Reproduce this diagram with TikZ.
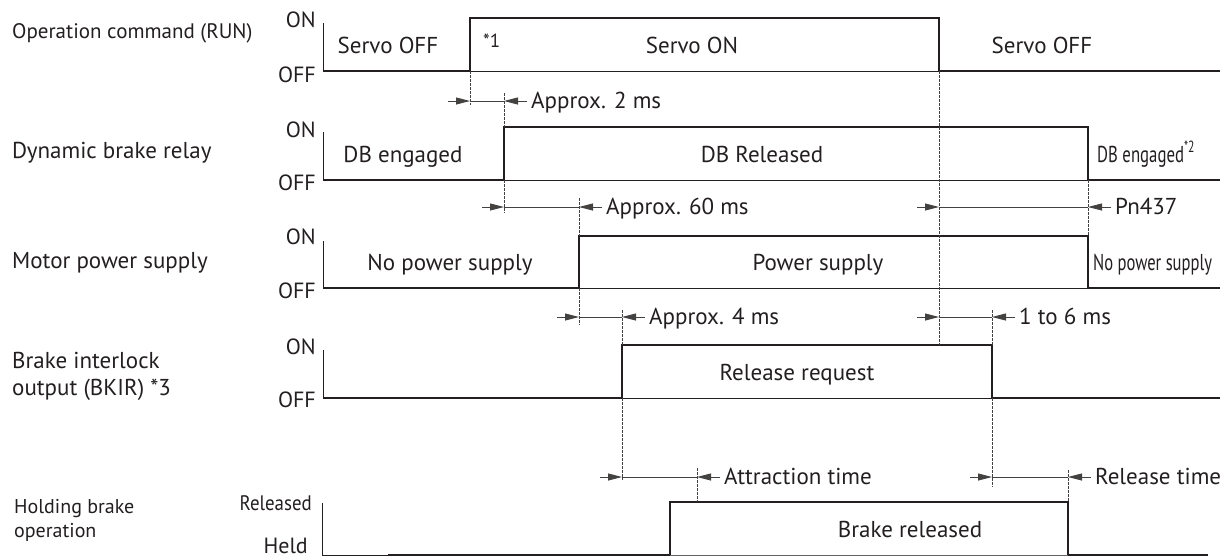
\documentclass[tikz,border=0pt]{standalone}
\usepackage{fontspec}
\setmainfont{PT Sans}
\usetikzlibrary{arrows.meta,positioning}
\definecolor{ink}{HTML}{231F20}

\begin{document}
\begin{tikzpicture}[x=1pt,y=-1pt,
  font=\fontsize{23}{26}\selectfont,text=ink,
  sig/.style={draw=ink,line width=1.9pt},
  floor/.style={draw=ink,line width=0.8pt},
  vguide/.style={draw=ink!85,line width=0.9pt,dash pattern=on 2.5pt off 1.5pt},
  span/.style={draw=ink!85,line width=0.9pt},
  dimtip/.style={span,-{Triangle[length=14pt,width=7pt]}},
  rowlab/.style={anchor=base west,inner sep=0pt},
  lvl/.style={anchor=base east,inner sep=0pt,font=\fontsize{22}{25}\selectfont},
  inlbl/.style={anchor=base,inner sep=0pt},
  cond/.style={anchor=base west,inner sep=0pt}]
\useasboundingbox (0,0) rectangle (1220,558);

% row names
\node[rowlab,font=\fontsize{21}{24}\selectfont] (runlab) at (12,38) {Operation command (RUN)};
\node[rowlab] (dblab) at (12,158) {Dynamic brake relay};
\node[rowlab] (pwrlab) at (12,268) {Motor power supply};
\node[rowlab] (bkilab) at (12,368) {Brake interlock};
\node[rowlab] (bkilab2) at (12,395) {output (BKIR) *3};
\node[rowlab,font=\fontsize{20}{23}\selectfont] (hldlab) at (14,513) {Holding brake};
\node[rowlab,font=\fontsize{20}{23}\selectfont] (hldlab2) at (14,537) {operation};

% levels
\node[lvl] (on1) at (316,27) {ON};   \node[lvl] (off1) at (316,82) {OFF};
\node[lvl] (on2) at (316,137) {ON};  \node[lvl] (off2) at (316,190) {OFF};
\node[lvl] (on3) at (316,244) {ON};  \node[lvl] (off3) at (316,298) {OFF};
\node[lvl] (on4) at (316,354) {ON};  \node[lvl] (off4) at (316,407) {OFF};
\node[lvl,font=\fontsize{21}{24}\selectfont] (rel5) at (312,510) {\scalebox{0.9}[1]{Released}};
\node[lvl] (hld5) at (308,553) {Held};

% waveforms
\draw[floor] (323,23) -- (323,71);
\draw[sig] (323,71) -- (470,71) -- (470,18) -- (939,18) -- (939,71) -- (1220,71);
\draw[floor] (470,71) -- (939,71);

\draw[floor] (323,132) -- (323,180);
\draw[sig] (323,180) -- (504,180) -- (504,127) -- (1088,127) -- (1088,180) -- (1220,180);
\draw[floor] (504,180) -- (1088,180);

\draw[floor] (323,241) -- (323,288);
\draw[sig] (323,288) -- (579,288) -- (579,236) -- (1088,236) -- (1088,288) -- (1220,288);
\draw[floor] (579,288) -- (1088,288);

\draw[floor] (323,350) -- (323,398);
\draw[sig] (323,398) -- (622,398) -- (622,345) -- (992,345) -- (992,398) -- (1220,398);
\draw[floor] (622,398) -- (992,398);

\draw[floor] (322,503) -- (322,555) -- (388,555);
\draw[sig] (388,555) -- (670,555) -- (670,502) -- (1068,502) -- (1068,555) -- (1208,555);
\draw[floor,draw=ink!70] (670,555) -- (1068,555);

% states
\node[inlbl] (soff1) at (388,53) {Servo OFF};
\node[anchor=base west,inner sep=0pt,font=\fontsize{19}{21}\selectfont] (n1) at (483,47) {*1};
\node[inlbl] (son) at (692,53) {Servo ON};
\node[inlbl] (soff2) at (1042,53) {Servo OFF};
\node[inlbl] (dbe1) at (403,162) {DB engaged};
\node[inlbl] (dbr) at (762,162) {DB Released};
\node[cond] (dbe2) at (1097,162) {\scalebox{0.73}[1]{DB engaged\textsuperscript{*2}}};
\node[inlbl] (npw1) at (450,270) {No power supply};
\node[inlbl] (pw) at (818,270) {Power supply};
\node[cond] (npw2) at (1093,270) {\scalebox{0.72}[1]{No power supply}};
\node[inlbl] (rrq) at (797,380) {Release request};
\node[inlbl] (brel) at (910,537) {Brake released};

% guides
\draw[vguide] (470,71) -- (470,105);
\draw[vguide] (504,93) -- (504,127) (504,180) -- (504,213);
\draw[vguide] (579,198) -- (579,236) (579,288) -- (579,325);
\draw[vguide] (622,310) -- (622,345) (622,398) -- (622,480);
\draw[vguide] (939,71) -- (939,345);
\draw[vguide] (1088,180) -- (1088,236);
\draw[vguide] (992,310) -- (992,345) (992,398) -- (992,487);
\draw[vguide] (697,468) -- (697,502);
\draw[vguide] (1068,470) -- (1068,502);

% timings
\foreach \n/\y/\xa/\xb/\txt in {1/101/470/504/Approx. 2 ms,2/207/504/579/Approx. 60 ms,
    3/317/579/622/Approx. 4 ms,4/207/939/1088/Pn437,5/317/939/992/1 to 6 ms,
    6/477/622/697/Attraction time,7/477/992/1068/Release time}{
  \coordinate (a\n) at (\xa,\y);
  \coordinate (b\n) at (\xb,\y);
  \draw[dimtip] ([xshift=-22pt]a\n) -- (a\n);
  \draw[span] (a\n) -- (b\n);
  \draw[dimtip] ([xshift=23pt]b\n) -- (b\n);
  \node[anchor=base west,inner sep=0pt] (t\n) at ([xshift=27pt,yshift=-7pt]b\n) {\txt};
}
\end{tikzpicture}
\end{document}
